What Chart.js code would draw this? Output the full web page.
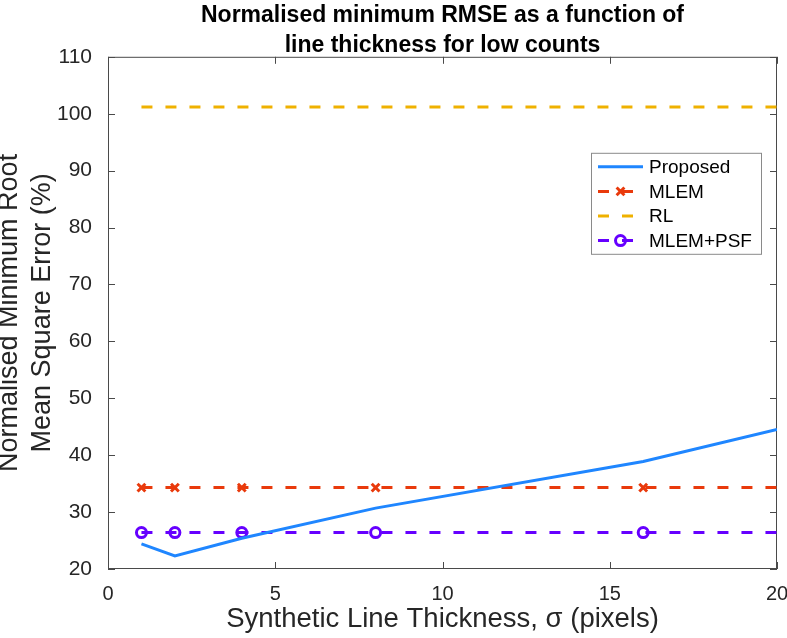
<!DOCTYPE html>
<html>
<head>
<meta charset="utf-8">
<script src="https://cdn.jsdelivr.net/npm/chart.js@4.4.0/dist/chart.umd.min.js"></script>
<style>
  html, body { margin: 0; padding: 0; background: #fff; }
</style>
</head>
<body>
<canvas id="chart" width="787" height="638"></canvas>
<script>
// values
const thickness = [1, 2, 4, 8, 16, 20];
const proposed = [24.4, 22.3, 25.4, 30.7, 38.9, 44.5];
const mlem = [34.3, 34.3, 34.3, 34.3, 34.3, 34.3];
const rl = [101.2, 101.2, 101.2, 101.2, 101.2, 101.2];
const mlemPsf = [26.4, 26.4, 26.4, 26.4, 26.4, 26.4];
const hasMarker = [true, true, true, true, true, false];

const xTicks = [0, 5, 10, 15, 20];
const yTicks = [20, 30, 40, 50, 60, 70, 80, 90, 100, 110];

const titleLines = ['Normalised minimum RMSE as a function of', 'line thickness for low counts'];
const xTitle = 'Synthetic Line Thickness, \u03C3 (pixels)';
const yTitle = ['Normalised Minimum Root', 'Mean Square Error (%)'];

const FONT = "'Liberation Sans', Arial, Helvetica, sans-serif";
const INK = '#262626';
const BLUE = '#1f86ff';
const RED = '#e93a0c';
const YELLOW = '#efb100';
const PURPLE = '#6600ff';

const toPoints = vals => thickness.map((t, i) => ({ x: t, y: vals[i] }));

// box round the axes with inward ticks on all four sides
const matlabAxes = {
    id: 'matlabAxes',
    beforeDatasetsDraw(chart, args, opts) {
        const { ctx, chartArea: a, scales: { x, y } } = chart;
        const L = opts.tickLength;
        ctx.save();
        ctx.strokeStyle = opts.color;
        ctx.lineWidth = 1;
        ctx.strokeRect(a.left + 0.5, a.top + 0.5, a.right - a.left - 1, a.bottom - a.top - 1);
        ctx.beginPath();
        x.ticks.forEach(t => {
            const px = Math.round(x.getPixelForValue(t.value)) + 0.5;
            ctx.moveTo(px, a.bottom); ctx.lineTo(px, a.bottom - L);
            ctx.moveTo(px, a.top); ctx.lineTo(px, a.top + L);
        });
        y.ticks.forEach(t => {
            const py = Math.round(y.getPixelForValue(t.value)) + 0.5;
            ctx.moveTo(a.left, py); ctx.lineTo(a.left + L, py);
            ctx.moveTo(a.right, py); ctx.lineTo(a.right - L, py);
        });
        ctx.stroke();
        ctx.restore();
    }
};

// legend box drawn inside the plot, like the original
const boxLegend = {
    id: 'boxLegend',
    afterDatasetsDraw(chart, args, opts) {
        const { ctx, chartArea } = chart;
        const x0 = chartArea.right - opts.offsetRight;
        const y0 = chartArea.top + opts.offsetTop;
        ctx.save();
        ctx.fillStyle = '#fff';
        ctx.fillRect(x0, y0, opts.width, opts.height);
        ctx.strokeStyle = opts.borderColor;
        ctx.lineWidth = 1;
        ctx.strokeRect(x0 + 0.5, y0 + 0.5, opts.width, opts.height);
        ctx.font = `${opts.fontSize}px ${FONT}`;
        ctx.textBaseline = 'middle';
        chart.data.datasets.forEach((ds, i) => {
            const cy = y0 + opts.firstRow + i * opts.rowGap;
            const sx = x0 + opts.sampleLeft, ex = sx + opts.sampleWidth, mx = (sx + ex) / 2;
            ctx.strokeStyle = ds.borderColor;
            ctx.lineWidth = ds.borderWidth;
            ctx.setLineDash(ds.borderDash || []);
            ctx.beginPath(); ctx.moveTo(sx, cy); ctx.lineTo(ex, cy); ctx.stroke();
            ctx.setLineDash([]);
            const r = Array.isArray(ds.pointRadius) ? Math.max(...ds.pointRadius) : ds.pointRadius;
            if (r > 0) {
                ctx.lineWidth = ds.pointBorderWidth;
                ctx.beginPath();
                if (ds.pointStyle === 'circle') {
                    ctx.arc(mx, cy, r, 0, Math.PI * 2);
                } else {
                    const d = r * 0.707;
                    ctx.moveTo(mx - d, cy - d); ctx.lineTo(mx + d, cy + d);
                    ctx.moveTo(mx - d, cy + d); ctx.lineTo(mx + d, cy - d);
                }
                ctx.stroke();
            }
            ctx.fillStyle = '#000';
            ctx.fillText(ds.label, x0 + opts.textLeft, cy + 1);
        });
        ctx.restore();
    }
};

new Chart(document.getElementById('chart'), {
    type: 'line',
    data: {
        datasets: [
            {
                label: 'Proposed',
                data: toPoints(proposed),
                borderColor: BLUE,
                backgroundColor: BLUE,
                borderWidth: 3,
                pointRadius: 0,
                tension: 0
            },
            {
                label: 'MLEM',
                data: toPoints(mlem),
                borderColor: RED,
                backgroundColor: RED,
                borderWidth: 3,
                borderDash: [11, 13],
                pointStyle: 'crossRot',
                pointRadius: hasMarker.map(m => m ? 5.5 : 0),
                pointBorderColor: RED,
                pointBorderWidth: 3,
                tension: 0
            },
            {
                label: 'RL',
                data: toPoints(rl),
                borderColor: YELLOW,
                backgroundColor: YELLOW,
                borderWidth: 3,
                borderDash: [11, 13],
                pointRadius: 0,
                tension: 0
            },
            {
                label: 'MLEM+PSF',
                data: toPoints(mlemPsf),
                borderColor: PURPLE,
                backgroundColor: PURPLE,
                borderWidth: 3,
                borderDash: [11, 13],
                pointStyle: 'circle',
                pointRadius: hasMarker.map(m => m ? 5 : 0),
                pointBorderColor: PURPLE,
                pointBackgroundColor: 'rgba(0,0,0,0)',
                pointBorderWidth: 3,
                tension: 0
            }
        ]
    },
    options: {
        responsive: false,
        animation: false,
        events: [],
        layout: { padding: { left: 0, right: 10, top: 0, bottom: 0 } },
        plugins: {
            legend: { display: false },
            tooltip: { enabled: false },
            title: {
                display: true,
                fullSize: false,
                text: titleLines,
                color: '#000',
                font: { family: FONT, size: 23, weight: 'bold', lineHeight: 1.3 },
                padding: { top: 1, bottom: -4 }
            },
            matlabAxes: { color: '#4a4a4a', tickLength: 7 },
            boxLegend: {
                offsetRight: 186, offsetTop: 96, width: 170, height: 101,
                firstRow: 14, rowGap: 24.6,
                sampleLeft: 7, sampleWidth: 45, textLeft: 58,
                fontSize: 19, borderColor: '#8a8a8a'
            }
        },
        scales: {
            x: {
                type: 'linear',
                min: 0,
                max: 20,
                afterBuildTicks: s => { s.ticks = xTicks.map(v => ({ value: v })); },
                afterFit: s => { s.height = 69; s.paddingLeft = 0; s.paddingRight = 0; },
                grid: { display: false },
                border: { display: false },
                ticks: { color: INK, font: { family: FONT, size: 20 }, padding: 5, maxRotation: 0 },
                title: {
                    display: true,
                    text: xTitle,
                    color: INK,
                    font: { family: FONT, size: 27.5 },
                    padding: { top: 0, bottom: 2 }
                }
            },
            y: {
                type: 'linear',
                min: 20,
                max: 110,
                afterBuildTicks: s => { s.ticks = yTicks.map(v => ({ value: v })); },
                afterFit: s => { s.width = 108; s.paddingTop = 0; s.paddingBottom = 0; },
                grid: { display: false },
                border: { display: false },
                ticks: { color: INK, font: { family: FONT, size: 21 }, padding: 8 },
                title: {
                    display: true,
                    text: yTitle,
                    color: INK,
                    font: { family: FONT, size: 27, lineHeight: 1.22 },
                    padding: { top: -7, bottom: 0 }
                }
            }
        }
    },
    plugins: [matlabAxes, boxLegend]
});
</script>
</body>
</html>
